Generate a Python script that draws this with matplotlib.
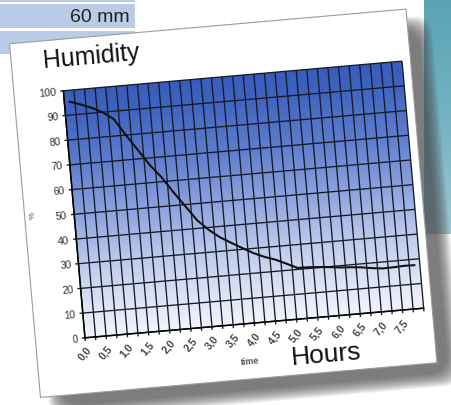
import numpy as np
import matplotlib
matplotlib.use("Agg")
import matplotlib.pyplot as plt
from matplotlib.transforms import Affine2D
from matplotlib.patches import Rectangle, FancyBboxPatch
import mpl_toolkits.axisartist.floating_axes as floating_axes
from mpl_toolkits.axisartist.grid_finder import FixedLocator

plt.rcParams['font.family'] = ['Liberation Sans', 'DejaVu Sans']

# ---------------- data ----------------
hours = [0.0, 0.25, 0.5, 0.75, 1.0, 1.25, 1.5, 1.75, 2.0, 2.25, 2.5, 2.75,
         3.0, 3.25, 3.5, 3.75, 4.0, 4.25, 4.5, 4.75, 5.0, 5.25, 5.5, 5.75,
         6.0, 6.25, 6.5, 6.75, 7.0, 7.25, 7.5, 7.75]
humidity = [95.4, 93.9, 92.2, 90.0, 86.8, 80.0, 73.6, 67.1, 61.8, 55.3, 49.3, 43.2,
            39.0, 35.6, 33.0, 30.5, 28.1, 26.2, 24.7, 22.7, 20.6, 20.5, 20.2, 19.8,
            19.3, 19.0, 18.6, 17.9, 17.4, 17.5, 17.7, 17.6]
x_tick_pos = [0.0, 0.5, 1.0, 1.5, 2.0, 2.5, 3.0, 3.5, 4.0, 4.5, 5.0, 5.5, 6.0, 6.5, 7.0, 7.5]
x_tick_labels = ["0,0", "0,5", "1,0", "1,5", "2,0", "2,5", "3,0", "3,5", "4,0", "4,5",
                 "5,0", "5,5", "6,0", "6,5", "7,0", "7,5"]
y_ticks = [0, 10, 20, 30, 40, 50, 60, 70, 80, 90, 100]
title = "Humidity"
x_title = "time"
y_title = "%"
big_x_label = "Hours"
cell_text = "60 mm"

# ---------------- geometry (pixels, y up) ----------------
W, H = 452, 406
ANG = 5.0
CX, CY = 223.25, 201.75
CARD_W, CARD_H = 398, 355
PLOT_W, PLOT_H = 340, 248
PCX, PCY = 20.5, 2.0   # plot centre in card frame

half = 0.125
xmin, xmax = hours[0] - half, hours[-1] + half
ymin, ymax = 0, 100
bounds = [h - half for h in hours] + [hours[-1] + half]

fig = plt.figure(figsize=(W / 100, H / 100), dpi=100)
fig.patch.set_facecolor('white')

# background axes in pixel units
bg = fig.add_axes([0, 0, 1, 1])
bg.axis('off')

# table cells at top-left
cell_c = '#b9cbe6'
bg.add_patch(Rectangle((0, 403), 135, 3, fc=cell_c, ec='none'))
bg.add_patch(Rectangle((0, 377), 135, 24, fc=cell_c, ec='none'))
bg.add_patch(Rectangle((0, 351), 135, 23, fc=cell_c, ec='none'))
bg.text(130, 389, cell_text, ha='right', va='center', fontsize=14, color='#222222')

# teal panel at right
teal = np.array([[0.36, 0.64, 0.71], [0.45, 0.70, 0.76], [0.62, 0.78, 0.82]])
tg = np.linspace(0, 1, 64)
tcol = np.empty((64, 1, 3))
for k in range(3):
    tcol[:, 0, k] = np.interp(tg, [0, 0.5, 1], teal[:, k])
bg.imshow(tcol, extent=(424, W, 171, H), origin='upper', aspect='auto',
          interpolation='bilinear', zorder=0)
bg.set_xlim(0, W)
bg.set_ylim(0, H)

card_tr = Affine2D().rotate_deg(ANG).translate(CX, CY) + bg.transData

# shadow (layered for blur)
for i in range(12):
    p = i * 1.2
    pad = max(8 - p * 0.5, 0.1)
    bg.add_patch(FancyBboxPatch((-CARD_W / 2 + 16 + p / 2, -CARD_H / 2 - 16 + p / 2),
                                CARD_W - p, CARD_H - p,
                                boxstyle="round,pad=%g,rounding_size=20" % pad,
                                fc='#444444', ec='none', alpha=0.09,
                                transform=card_tr, zorder=2))
# card
bg.add_patch(Rectangle((-CARD_W / 2, -CARD_H / 2), CARD_W, CARD_H, fc='white',
                       ec='#9c9c9c', lw=0.8, transform=card_tr, zorder=3))

# ---------------- rotated chart ----------------
sx = PLOT_W / (xmax - xmin)
sy = PLOT_H / (ymax - ymin)
tr = Affine2D().scale(sx, sy).rotate_deg(ANG)
c, s = np.cos(np.deg2rad(ANG)), np.sin(np.deg2rad(ANG))
bbw = PLOT_W * c + PLOT_H * s
bbh = PLOT_W * s + PLOT_H * c
pcx = CX + PCX * c - PCY * s
pcy = CY + PCX * s + PCY * c
rw, rh = bbw * 1.02, bbh * 1.02
rect = [(pcx - rw / 2) / W, (pcy - rh / 2) / H, rw / W, rh / H]

gh = floating_axes.GridHelperCurveLinear(
    tr, extremes=(xmin, xmax, ymin, ymax),
    grid_locator1=FixedLocator(x_tick_pos), grid_locator2=FixedLocator(y_ticks))
ax = fig.add_axes(rect, axes_class=floating_axes.FloatingAxes, grid_helper=gh)
ax.patch.set_facecolor('none')
for side in ["top", "right"]:
    ax.axis[side].set_visible(False)
for side in ["left", "bottom"]:
    ax.axis[side].major_ticks.set_visible(False)
    ax.axis[side].major_ticklabels.set_visible(False)
    ax.axis[side].line.set_color('black')
    ax.axis[side].line.set_linewidth(1.1)

aux = ax.get_aux_axes(tr)

# gradient fill (RGBA so the rotated image leaves transparent corners)
gy = np.linspace(0, 100, 200)
stops = [0, 10, 30, 50, 70, 90, 100]
cols = np.array([(242, 244, 251), (226, 231, 246), (188, 202, 236), (140, 162, 222),
                 (95, 125, 205), (64, 100, 192), (55, 92, 188)]) / 255.0
grad = np.ones((200, 2, 4))
for k in range(3):
    grad[:, :, k] = np.interp(gy, stops, cols[:, k])[:, None]
im = aux.imshow(grad, extent=(xmin, xmax, ymin, ymax), origin='lower', aspect='auto',
                interpolation='bilinear', zorder=0)
im.set_clip_path(ax.patch)

gcol = '#151a26'
aux.vlines(bounds, -1.3, ymax, colors=gcol, lw=0.95, clip_on=False, zorder=1)
aux.hlines(y_ticks, xmin - 0.075, xmax, colors=gcol, lw=0.95, clip_on=False, zorder=1)

aux.plot(hours, humidity, color='#111111', lw=1.5, zorder=3, solid_capstyle='round')

# tick labels
for v in y_ticks:
    aux.annotate(str(v), xy=(xmin, v), xytext=(-7 * c, -7 * s), textcoords='offset pixels',
                 ha='right', va='center', rotation=ANG, rotation_mode='anchor',
                 fontsize=7.5, color='#333333', annotation_clip=False)
for xp, lab in zip(x_tick_pos, x_tick_labels):
    da, dp = -2.0, -10.0
    aux.annotate(lab, xy=(xp, 0), xytext=(da * c - dp * s, da * s + dp * c),
                 textcoords='offset pixels', ha='right', va='center',
                 rotation=45 + ANG, rotation_mode='anchor', fontsize=7.5,
                 fontweight='bold', color='#444444', annotation_clip=False)

# texts in card frame
ct = Affine2D().rotate_deg(ANG).translate(CX, CY) + bg.transData
fig.text(-118.2, 158.5, title, transform=ct, rotation=ANG, rotation_mode='anchor',
         ha='center', va='center', fontsize=18, color='#111111', zorder=5)
fig.text(89.2, -159.1, big_x_label, transform=ct, rotation=ANG, rotation_mode='anchor',
         ha='center', va='center', fontsize=19, color='#111111', zorder=5)
fig.text(12.9, -159.5, x_title, transform=ct, rotation=ANG, rotation_mode='anchor',
         ha='center', va='center', fontsize=6.5, fontweight='bold', color='#555555', zorder=5)
fig.text(-190.5, 5.9, y_title, transform=ct, rotation=90 + ANG, rotation_mode='anchor',
         ha='center', va='center', fontsize=6, color='#555555', zorder=5)

fig.savefig("out.png", dpi=100, facecolor='white')
